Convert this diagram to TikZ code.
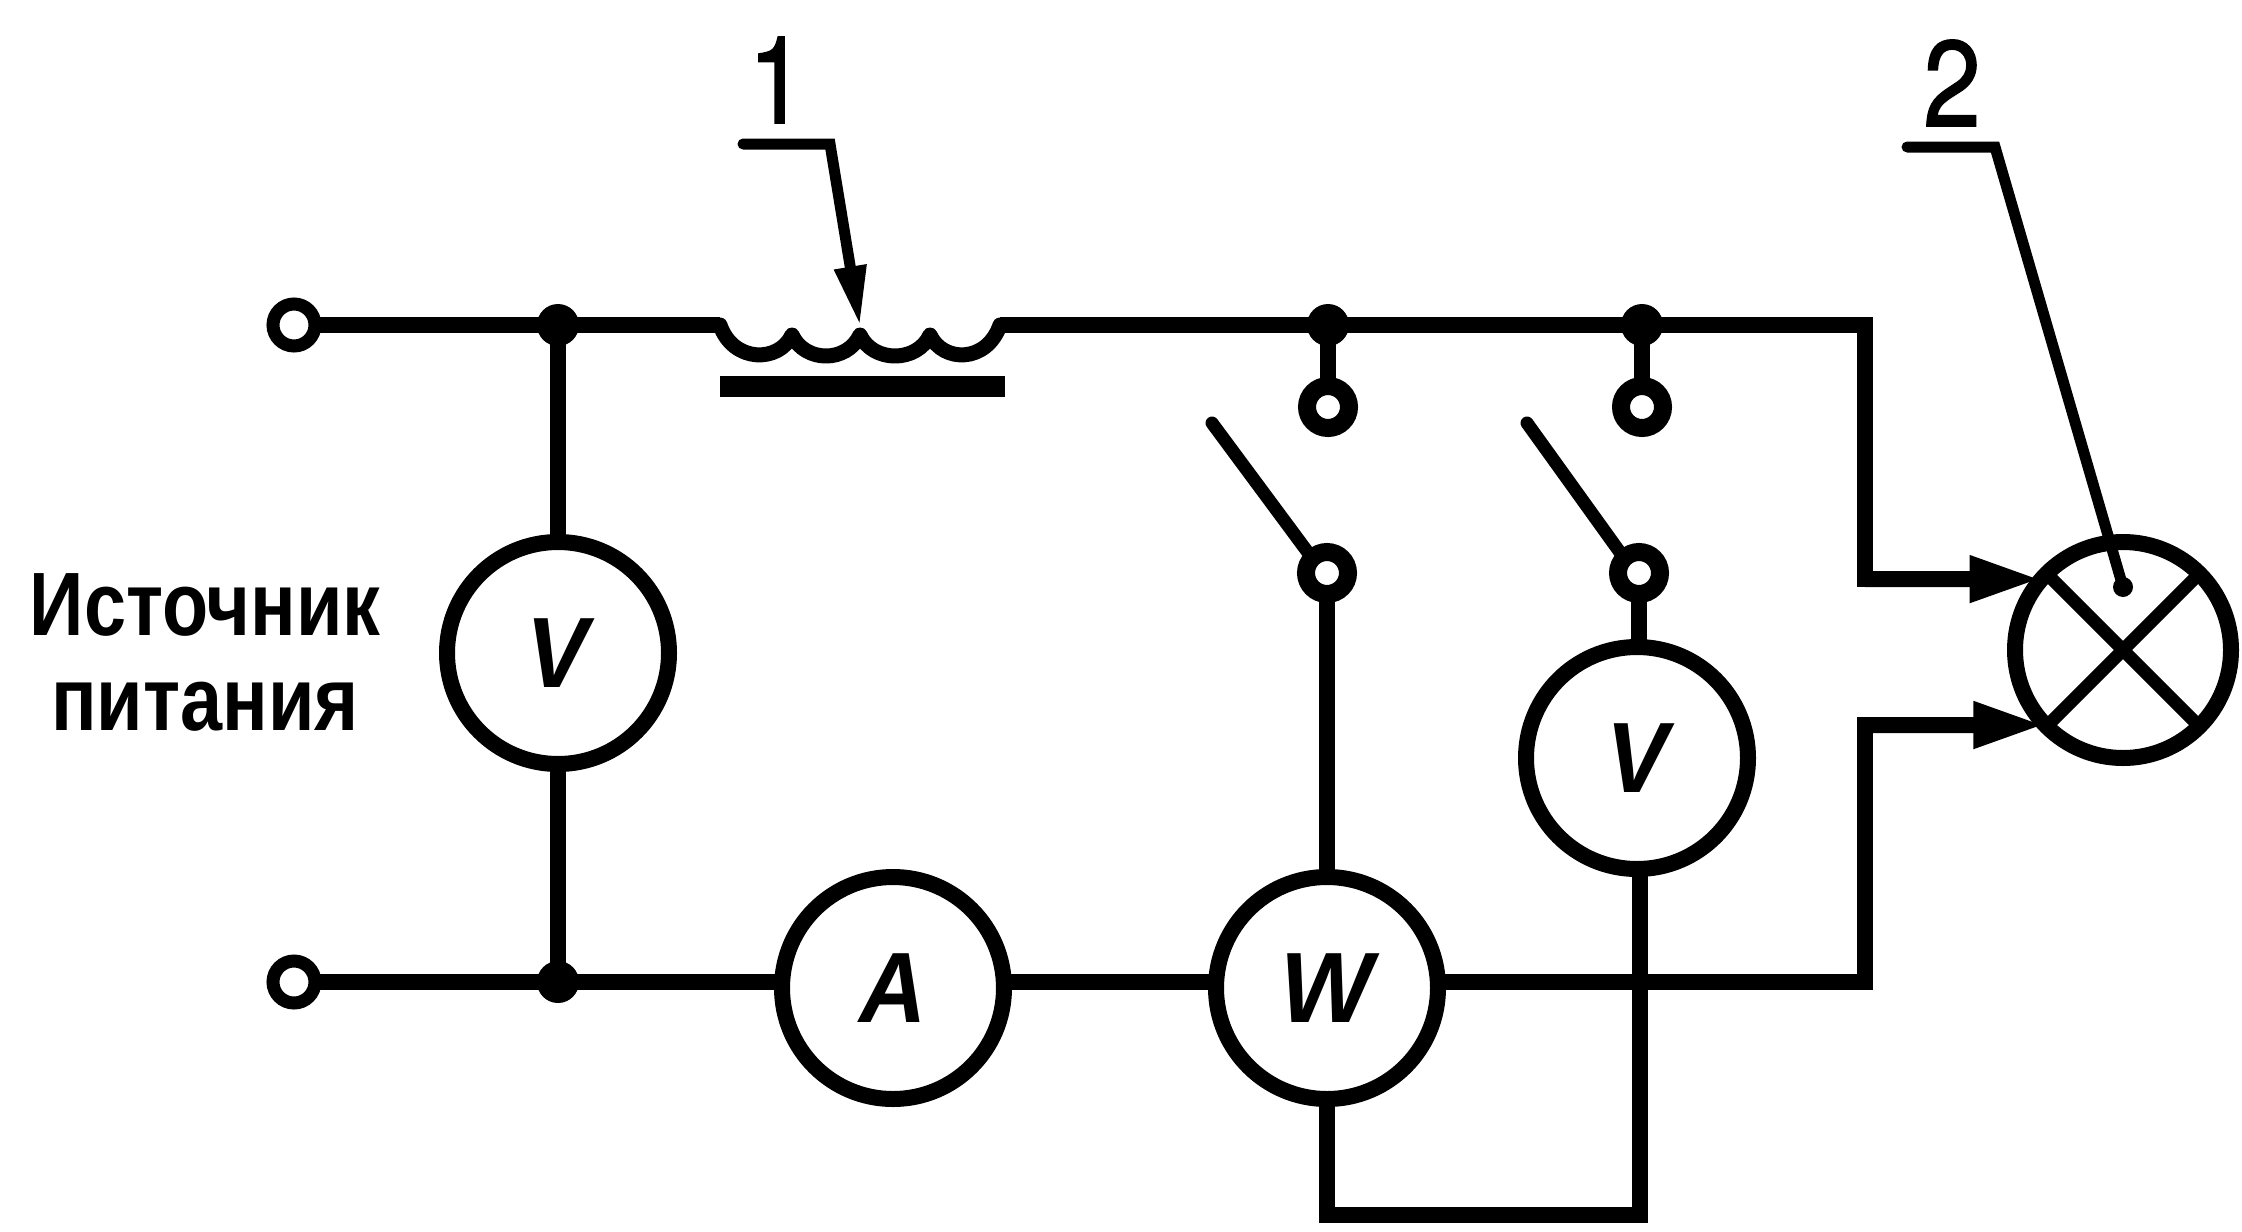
\documentclass[tikz,border=0pt]{standalone}
\usepackage{graphicx}
\usepackage{fontspec}
\setmainfont{Liberation Sans}
\newfontfamily\digitfont[FakeBold=1.2]{TeX Gyre Heros}
\usetikzlibrary{arrows.meta,backgrounds}
\newcommand{\squeezed}[2]{\scalebox{#1}[1]{#2}}
\tikzset{
  x=0.5pt,y=-0.5pt,
  wire/.style={line width=8pt,line join=miter,line cap=butt},
  leader/.style={line width=5.5pt,line join=miter,line cap=round},
  blade/.style={line width=6.5pt,line cap=round},
  meter/.style={circle,draw,line width=8pt,minimum size=111pt,inner sep=0pt,outer sep=0pt,fill=white,font=\fontsize{50}{50}\selectfont\bfseries\itshape},
  lampface/.style={circle,draw,line width=8pt,minimum size=108pt,inner sep=0pt,outer sep=0pt,fill=white},
  terminal/.style={circle,draw,line width=6.5pt,minimum size=21pt,inner sep=0pt,outer sep=0pt,fill=white},
  contact/.style={circle,draw,line width=9pt,minimum size=21pt,inner sep=0pt,outer sep=0pt,fill=white},
  joint/.style={circle,fill=black,minimum size=21pt,inner sep=0pt,outer sep=0pt},
  tip/.style={-{Triangle[length=36pt,width=21.5pt]}},
  numeral/.style={font=\digitfont\fontsize{61}{61}\selectfont,inner sep=0pt},
  caption/.style={font=\fontsize{45}{47.5}\selectfont\bfseries,align=center,inner sep=0pt},
}
\begin{document}
\begin{tikzpicture}
\useasboundingbox (0,0) rectangle (2242,1231);

% fixed points
\coordinate (cL) at (720,325);
\coordinate (c1) at (792,335);
\coordinate (c2) at (860,335);
\coordinate (c3) at (930,335);
\coordinate (cR) at (1000,325);
\coordinate (tr) at (1865,325);
\coordinate (r1) at (1865,579);
\coordinate (r2) at (1865,725);
\coordinate (br) at (1865,982);
\coordinate (lb1) at (1327,1215);
\coordinate (lb2) at (1640,1215);
\coordinate (cross) at (1640,982);
\coordinate (b1) at (1212,423);
\coordinate (b2) at (1527,423);

% nodes
\node[joint] (j1) at (558,325) {};
\node[joint] (j2) at (558,982) {};
\node[joint] (j3) at (1328,325) {};
\node[joint] (j4) at (1642,325) {};
\node[terminal] (t1) at (294,325) {};
\node[terminal] (t2) at (294,982) {};
\node[meter] (v1) at (558,653) {\squeezed{.93}{V}};
\node[meter] (am) at (893,988) {\squeezed{.93}{A}};
\node[meter] (wm) at (1327,988) {\squeezed{.98}{W}};
\node[meter] (v2) at (1637,758) {\squeezed{.93}{V}};
\node[contact] (s1a) at (1328,407) {};
\node[contact] (s2a) at (1642,407) {};
\node[contact] (s1b) at (1327,573) {};
\node[contact] (s2b) at (1639,573) {};
\node[lampface] (lamp) at (2123,650) {};

% wires, under the nodes
\begin{scope}[on background layer]
\fill[white] (0,0) rectangle (2242,1231);
\draw[wire] (t1.center) -- (cL);
\draw[wire] (t2.center) -- (am.center |- j2.center) -- (wm.center |- j2.center) -- (br) -- (r2) -- ++(1,0);
\draw[wire] (cR) -- (tr) -- (r1) -- ++(1,0);
\draw[wire] (j1.center) -- (v1.center) -- (j2.center);
\draw[wire] (j3.center) -- (s1a.center);
\draw[wire] (j4.center) -- (s2a.center);
\draw[wire] (s1b.center) -- (wm.center);
\draw[wire] (s2b.center) -- (s2b.center |- v2.center);
\draw[wire] (v2.center -| cross) -- (lb2) -- (lb1) -- (wm.center);
\end{scope}

% coil and core
\draw[line width=7.5pt,line join=round,line cap=round] (cL)
  .. controls (733,363) and (779,363) .. (c1)
  .. controls (805,363) and (847,363) .. (c2)
  .. controls (873,363) and (917,363) .. (c3)
  .. controls (943,363) and (987,363) .. (cR);
\draw[line width=10.5pt] (720,386) -- (1005,386);

% switch blades
\draw[blade] (b1) -- (s1b.135);
\draw[blade] (b2) -- (s2b.135);

% lamp
\draw[line width=6.5pt] (lamp.45) -- (lamp.225);
\draw[line width=6.5pt] (lamp.135) -- (lamp.315);
\draw[wire,tip] (r1) -- (lamp.139);
\draw[wire,tip] (r2) -- (lamp.224);

% leaders
\coordinate (l1a) at (743,144);
\coordinate (l1b) at (830,144);
\coordinate (l1c) at (860,326);
\draw[leader,-{Triangle[length=30pt,width=15pt]}] (l1a) -- (l1b) -- (l1c);
\coordinate (l2a) at (1907,147);
\coordinate (l2b) at (1995,147);
\coordinate (l2c) at (2123,587);
\draw[leader] (l2a) -- (l2b) -- (l2c);
\fill (l2c) circle (5pt);

% labels
\node[numeral] (n1) at (777,80) {\squeezed{.85}{1}};
\node[numeral] (n2) at (1952,83) {\squeezed{.85}{2}};
\node[caption] (cap) at (205,652) {\squeezed{.84}{Источник}\\\squeezed{.84}{питания}};
\end{tikzpicture}
\end{document}
